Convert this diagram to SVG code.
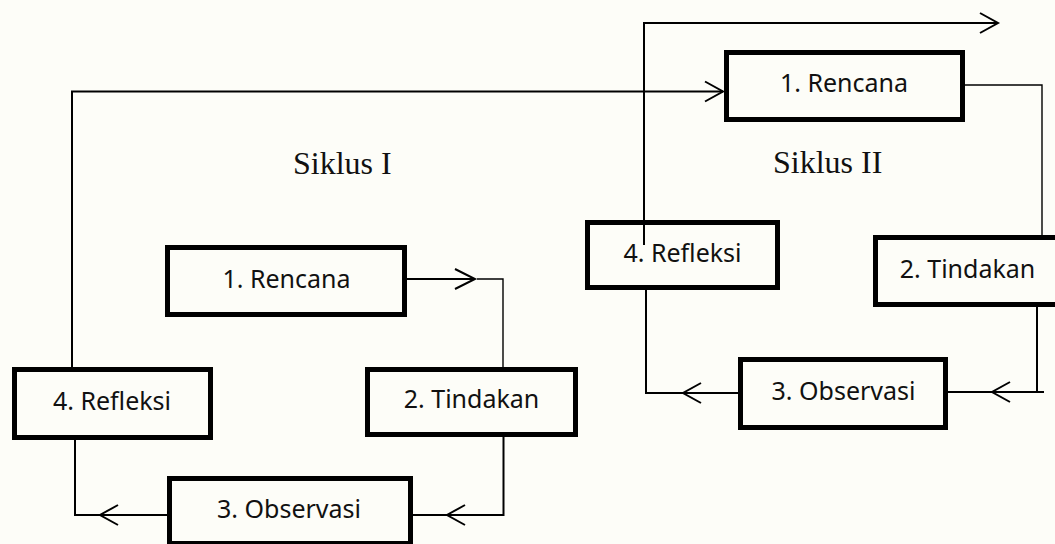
<svg xmlns="http://www.w3.org/2000/svg" width="1055" height="544" viewBox="0 0 1055 544">
<style>
.box{fill:#fdfdf8;stroke:#000;stroke-width:5}
.lbl{font-family:"Noto Sans","Open Sans",sans-serif;font-size:25px;fill:#111;text-anchor:middle}
.title{font-family:"Liberation Serif","Times New Roman",serif;font-size:32px;fill:#111}
.ln{fill:none;stroke:#000;stroke-width:2}
.thin{fill:none;stroke:#000;stroke-width:1.4}
.ah{fill:none;stroke:#000;stroke-width:2}
</style>
<rect width="1055" height="544" fill="#fdfdf8"/>
<text class="title" x="293" y="174">Siklus I</text>
<text class="title" x="773" y="173">Siklus II</text>
<g id="L1"><rect class="box" x="167.5" y="247.5" width="237" height="67"/><text class="lbl" x="286.5" y="288">1. Rencana</text></g>
<g id="L2"><rect class="box" x="367.5" y="369.5" width="208" height="65"/><text class="lbl" x="471.5" y="408">2. Tindakan</text></g>
<g id="L3"><rect class="box" x="169.5" y="478.5" width="241" height="65"/><text class="lbl" x="289" y="518">3. Observasi</text></g>
<g id="L4"><rect class="box" x="14.5" y="369.5" width="196" height="68"/><text class="lbl" x="112" y="410">4. Refleksi</text></g>
<g id="R1"><rect class="box" x="726.5" y="52.5" width="236" height="67"/><text class="lbl" x="844" y="92">1. Rencana</text></g>
<g id="R2"><rect class="box" x="875.5" y="237.5" width="190" height="67"/><text class="lbl" x="967.5" y="278">2. Tindakan</text></g>
<g id="R3"><rect class="box" x="740.5" y="359.5" width="205" height="68"/><text class="lbl" x="843.5" y="400">3. Observasi</text></g>
<g id="R4"><rect class="box" x="587.5" y="222.5" width="190" height="65"/><text class="lbl" x="682.5" y="262">4. Refleksi</text></g>
<g id="connectors">
<path class="ln" d="M407,279 H475"/>
<polyline class="ah" points="455,269 475,279 455,289"/>
<path class="thin" d="M477,279 H503 V367"/>
<path class="ln" d="M503.5,437 V515 H413"/>
<polyline class="ah" points="465,505 447,515 465,525"/>
<path class="ln" d="M167,515 H75 V440"/>
<polyline class="ah" points="118,505 100,515 118,525"/>
<path class="ln" d="M72,367 V91.5 H723"/>
<polyline class="ah" points="705,81.5 723,91.5 705,101.5"/>
<path class="thin" d="M965,85 H1042 V235"/>
<path class="ln" d="M1037,307 V392 H948 M1037,392 H1044"/>
<polyline class="ah" points="1010,382 992,392 1010,402"/>
<path class="ln" d="M738,393 H646 V290"/>
<polyline class="ah" points="701,383 683,393 701,403"/>
<path class="ln" d="M644,245 V23 H998"/>
<polyline class="ah" points="980,13 998,23 980,33"/>
</g>
</svg>
